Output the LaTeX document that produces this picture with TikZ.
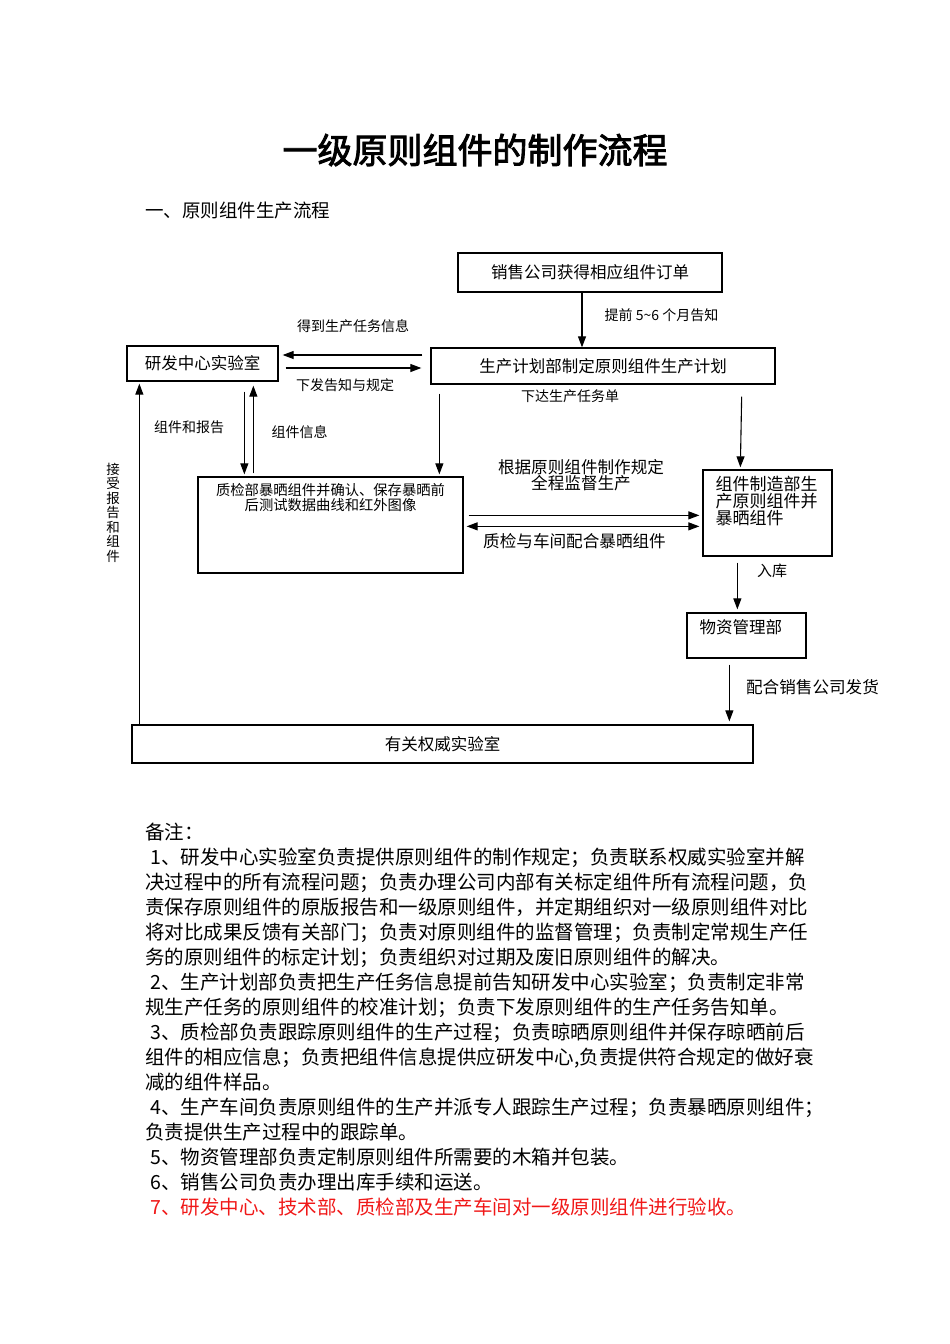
\documentclass[tikz,border=0pt]{standalone}
\usepackage{fontspec}
\setmainfont{Noto Sans CJK SC}[AutoFakeBold=2.5]
\usepackage{xcolor}
\usepackage{tikz}
\usetikzlibrary{arrows.meta, calc}
\definecolor{flowline}{HTML}{000000}
\definecolor{notered}{HTML}{F01818}

\begin{document}
\begin{tikzpicture}[x=1pt, y=-1pt,
    box/.style={rectangle, draw=flowline, line width=1.3pt, inner sep=0pt,
                font=\fontsize{16.5}{20}\selectfont},
    lbl/.style={font=\fontsize{14}{16}\selectfont, inner sep=0pt},
    mid/.style={font=\fontsize{16.6}{16}\selectfont, inner sep=0pt, align=center},
    arr/.style={draw=flowline, line width=1.1pt, -{Triangle[length=11pt,width=8pt]}},
    darr/.style={draw=flowline, line width=1.1pt,
                 {Triangle[length=11pt,width=8pt]}-{Triangle[length=11pt,width=8pt]}}
]
\useasboundingbox (0,0) rectangle (950,1344);

% heading
\node[font=\fontsize{35}{40}\selectfont\bfseries] (title) at (475,150) {一级原则组件的制作流程};
\node[anchor=west, inner sep=0pt, font=\fontsize{18.5}{22}\selectfont] (subtitle) at (145,211) {一、原则组件生产流程};

% boxes
\node[box, minimum width=264pt, minimum height=39pt] (sales) at (590,272.5) {销售公司获得相应组件订单};
\node[box, minimum width=151pt, minimum height=35pt] (rd)    at (202.5,363.5) {研发中心实验室};
\node[box, minimum width=344pt, minimum height=36pt] (plan)  at (603,366) {生产计划部制定原则组件生产计划};
\node[box, minimum width=265pt, minimum height=96pt] (qc)    at (330.5,525) {};
\node[box, minimum width=129pt, minimum height=86pt] (mfg)   at (767.5,513) {};
\node[box, minimum width=119pt, minimum height=45pt] (store) at (746.5,635.5) {};
\node[box, minimum width=621pt, minimum height=38pt] (auth)  at (442.5,744) {有关权威实验室};

\node[anchor=north, align=center, inner sep=0pt, font=\fontsize{14.3}{15}\selectfont] (qctext)
    at ($(qc.north)+(0,7)$) {质检部暴晒组件并确认、保存暴晒前\\后测试数据曲线和红外图像};
\node[anchor=north west, align=left, inner sep=0pt, font=\fontsize{17}{17}\selectfont] (mfgtext)
    at ($(mfg.north west)+(13,7)$) {组件制造部生\\产原则组件并\\暴晒组件};
\node[anchor=west, inner sep=0pt, font=\fontsize{16.5}{20}\selectfont] (storetext)
    at ($(store.north west)+(13,15)$) {物资管理部};

% labels
\node[lbl] (lead)     at (661.5,315) {提前 5\textasciitilde 6 个月告知};
\node[lbl] (getinfo)  at (353,326) {得到生产任务信息};
\node[lbl] (issue)    at (345,385) {下发告知与规定};
\node[lbl] (comprep)  at (189,427) {组件和报告};
\node[lbl] (compinfo) at (299.5,432) {组件信息};
\node[lbl] (order)    at (570,396) {下达生产任务单};
\node[lbl, align=center, font=\fontsize{13.5}{14.5}\selectfont] (recv) at (113,512.5)
    {接\\受\\报\\告\\和\\组\\件};
\node[mid] (super)    at (581,475) {根据原则组件制作规定\\全程监督生产};
\node[mid] (coop)     at (574.5,541) {质检与车间配合暴晒组件};
\node[lbl, font=\fontsize{15}{16}\selectfont] (instock) at (772,571) {入库};
\node[mid] (ship)     at (812.5,687) {配合销售公司发货};

% connectors
\draw[arr]  ($(sales.south)+(-8,0)$) -- ($(plan.north)+(-21,0)$);
\draw[arr]  ($(plan.west)+(-8,-11)$) -- ($(rd.east)+(4,-8.5)$);
\draw[arr]  ($(rd.east)+(7,4.5)$) -- ($(plan.west)+(-9,2)$);
\draw[arr]  ($(rd.south west)+(118,10)$) -- ($(qc.north west)+(47,-2)$);
\draw[arr]  ($(qc.north west)+(56,-3)$) -- ($(rd.south west)+(127,4)$);
\draw[arr]  ($(auth.north west)+(8,0)$) -- ($(rd.south west)+(13,2)$);
\draw[arr]  ($(plan.south west)+(9,9)$) -- ($(qc.north west)+(242,-2)$);
\draw[arr]  ($(plan.south east)+(-34,12)$) -- ($(mfg.north west)+(38,-2)$);
\draw[arr]  ($(qc.north east)+(5,39)$) -- ($(mfg.north west)+(-3,46)$);
\draw[darr] ($(qc.north east)+(3,50)$) -- ($(mfg.north west)+(-3,57)$);
\draw[arr]  ($(mfg.south west)+(35,6)$) -- ($(store.north west)+(51,-3)$);
\draw[arr]  ($(store.south west)+(43,6)$) -- ($(auth.north west)+(598,-3)$);

% notes
\node[anchor=north west, align=left, inner sep=0pt, font=\fontsize{19.5}{25}\selectfont] (notes) at (145,823) {%
备注：\\
\hspace*{5pt}1、研发中心实验室负责提供原则组件的制作规定；负责联系权威实验室并解\\
决过程中的所有流程问题；负责办理公司内部有关标定组件所有流程问题，负\\
责保存原则组件的原版报告和一级原则组件，并定期组织对一级原则组件对比\\
将对比成果反馈有关部门；负责对原则组件的监督管理；负责制定常规生产任\\
务的原则组件的标定计划；负责组织对过期及废旧原则组件的解决。\\
\hspace*{5pt}2、生产计划部负责把生产任务信息提前告知研发中心实验室；负责制定非常\\
规生产任务的原则组件的校准计划；负责下发原则组件的生产任务告知单。\\
\hspace*{5pt}3、质检部负责跟踪原则组件的生产过程；负责晾晒原则组件并保存晾晒前后\\
组件的相应信息；负责把组件信息提供应研发中心,负责提供符合规定的做好衰\\
减的组件样品。\\
\hspace*{5pt}4、生产车间负责原则组件的生产并派专人跟踪生产过程；负责暴晒原则组件；\\
负责提供生产过程中的跟踪单。\\
\hspace*{5pt}5、物资管理部负责定制原则组件所需要的木箱并包装。\\
\hspace*{5pt}6、销售公司负责办理出库手续和运送。\\
\hspace*{5pt}{\color{notered}7、研发中心、技术部、质检部及生产车间对一级原则组件进行验收。}};
\end{tikzpicture}
\end{document}
